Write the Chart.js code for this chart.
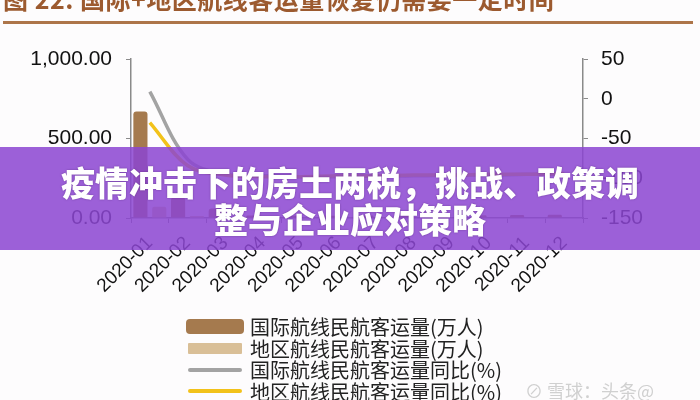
<!DOCTYPE html>
<html>
<head>
<meta charset="utf-8">
<script src="https://cdn.jsdelivr.net/npm/chart.js@4"></script>
<style>
  body { margin: 0; background: #fdfcfd; }
  #wrap { position: relative; width: 700px; height: 400px; overflow: hidden; background: #fdfcfd; }
  #title { position: absolute; left: 3px; top: -17px; font: bold 25px "Noto Sans CJK SC"; color: #9c5a2f; white-space: nowrap; line-height: 30px; letter-spacing: 0.5px; }
  #rule { position: absolute; left: 3px; top: 21px; width: 690px; height: 3px; background: #ad7549; }
  #legend { position: absolute; left: 186px; top: 316px; font: 20px "Noto Sans CJK SC"; color: #222; }
  #legend .row { display: flex; align-items: center; height: 21.5px; }
  #legend .mk { width: 58px; display: flex; justify-content: center; margin-right: 6px; }
  #banner { position: absolute; left: 0; top: 147px; width: 700px; height: 103px; background: rgba(140, 70, 210, 0.86);
    color: #fff; font: 900 34px "Noto Sans CJK SC"; text-align: center; line-height: 37px; padding-top: 16px; box-sizing: border-box;
    text-shadow: 0 0 2px rgba(60, 20, 90, 0.5); }
  #mark { position: absolute; left: 525px; top: 377px; font: 18px "Noto Sans CJK SC"; color: #d0d0d0; }
</style>
</head>
<body>
<div id="wrap">
  <canvas id="myChart" width="700" height="400"></canvas>
  <div id="title">图 22: 国际+地区航线客运量恢复仍需要一定时间</div>
  <div id="rule"></div>
  <div id="legend"></div>
  <div id="mark">⊘ 雪球：头条@</div>
  <div id="banner">疫情冲击下的房土两税，挑战、政策调<br>整与企业应对策略</div>
</div>
<script>
const months = ['2020-01', '2020-02', '2020-03', '2020-04', '2020-05', '2020-06',
  '2020-07', '2020-08', '2020-09', '2020-10', '2020-11', '2020-12']

const intlPassengers = [670, 130, 60, 15, 14, 14, 15, 16, 17, 18, 19, 20]
const regionPassengers = [70, 12, 4, 2, 2, 2, 2, 3, 3, 3, 3, 3]
const intlYoY = [9, -76, -95, -97, -98, -98, -97, -97, -96, -96, -95, -95]
const regionYoY = [-30, -84, -96, -98, -98, -97, -97, -96, -96, -95, -95, -94]

const ctx = document.getElementById('myChart').getContext('2d')

const axisColor = '#8a8a8a'
const tickFont = { family: 'Liberation Sans', size: 21 }

const data = {
  labels: months,
  datasets: [{
    type: 'line',
    label: '国际航线民航客运量同比(%)',
    data: intlYoY,
    yAxisID: 'y1',
    borderColor: '#a3a3a3',
    borderWidth: 3.5,
    pointRadius: 0,
    tension: 0.35,
    order: 1
  },
  {
    type: 'line',
    label: '地区航线民航客运量同比(%)',
    data: regionYoY,
    yAxisID: 'y1',
    borderColor: '#f2c21a',
    borderWidth: 3.5,
    pointRadius: 0,
    tension: 0.35,
    order: 0
  },
  {
    type: 'bar',
    label: '国际航线民航客运量(万人)',
    data: intlPassengers,
    yAxisID: 'y',
    backgroundColor: '#a57a4e',
    borderRadius: 3,
    barPercentage: 0.75,
    categoryPercentage: 1,
    order: 2
  },
  {
    type: 'bar',
    label: '地区航线民航客运量(万人)',
    data: regionPassengers,
    yAxisID: 'y',
    backgroundColor: '#d9bf97',
    borderRadius: 2,
    barPercentage: 0.75,
    categoryPercentage: 1,
    order: 3
  }]
}

const config = {
  type: 'bar',
  data: data,
  options: {
    responsive: false,
    animation: false,
    layout: { padding: { top: 59, bottom: 96, left: 0, right: 0 } },
    plugins: { legend: { display: false }, tooltip: { enabled: false } },
    scales: {
      x: {
        offset: true,
        border: { color: axisColor, width: 1.5 },
        grid: { display: true, drawOnChartArea: false, color: axisColor, tickLength: 5, offset: true },
        ticks: { color: '#111', font: { family: 'Liberation Sans', size: 19 }, minRotation: 45, maxRotation: 45, autoSkip: false, padding: 9 },
        afterFit: function (s) { s.height = 86 }
      },
      y: {
        position: 'left',
        min: 0,
        max: 1000,
        border: { color: axisColor, width: 1.5 },
        grid: { drawOnChartArea: false, color: axisColor, tickLength: 5 },
        ticks: {
          stepSize: 500,
          color: '#111',
          font: tickFont,
          padding: 14,
          callback: v => v.toLocaleString('en-US', { minimumFractionDigits: 2, maximumFractionDigits: 2 })
        },
        afterFit: function (s) { s.width = 131 }
      },
      y1: {
        position: 'right',
        min: -150,
        max: 50,
        border: { color: axisColor, width: 1.5 },
        grid: { drawOnChartArea: false, color: axisColor, tickLength: 5 },
        ticks: { stepSize: 50, color: '#111', font: tickFont, padding: 13 },
        afterFit: function (s) { s.width = 117 }
      }
    }
  }
}

const myChart = new Chart(ctx, config)

// legend in the order of the report
const legendOrder = [2, 3, 0, 1]
const legend = document.getElementById('legend')
legendOrder.forEach(i => {
  const ds = data.datasets[i]
  const row = document.createElement('div')
  row.className = 'row'
  const mk = document.createElement('div')
  mk.className = 'mk'
  const sw = document.createElement('div')
  if (ds.type === 'bar') {
    sw.style.background = ds.backgroundColor
    sw.style.width = i === 2 ? '58px' : '54px'
    sw.style.height = i === 2 ? '15px' : '11px'
    sw.style.borderRadius = i === 2 ? '4px' : '1px'
  } else {
    sw.style.background = ds.borderColor
    sw.style.width = '54px'
    sw.style.height = '4px'
    sw.style.borderRadius = '2px'
  }
  mk.appendChild(sw)
  const txt = document.createElement('span')
  txt.textContent = ds.label
  row.appendChild(mk)
  row.appendChild(txt)
  legend.appendChild(row)
})
</script>
</body>
</html>
